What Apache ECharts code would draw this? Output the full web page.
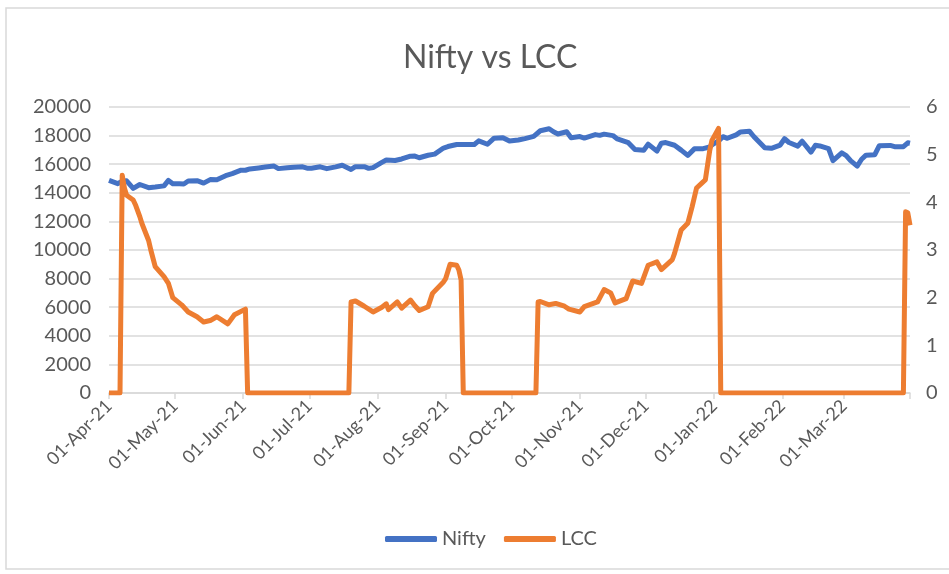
<!DOCTYPE html>
<html>
<head>
<meta charset="utf-8">
<title>Nifty vs LCC</title>
<script src="https://cdn.jsdelivr.net/npm/echarts@6/dist/echarts.min.js"></script>
<style>
  html, body { margin: 0; padding: 0; background: #fff; }
  #chart { width: 949px; height: 574px; }
</style>
</head>
<body>
<div id="chart"></div>
<script>
// Nifty close (trading days, sampled)
var niftyDates = ['2021-04-01','2021-04-05','2021-04-07','2021-04-09','2021-04-12','2021-04-15','2021-04-19','2021-04-22','2021-04-26','2021-04-28','2021-04-30',
  '2021-05-03','2021-05-05','2021-05-07','2021-05-11','2021-05-14','2021-05-17','2021-05-20','2021-05-24','2021-05-27','2021-05-31',
  '2021-06-02','2021-06-04','2021-06-08','2021-06-11','2021-06-15','2021-06-17','2021-06-21','2021-06-24','2021-06-28','2021-06-30',
  '2021-07-02','2021-07-06','2021-07-09','2021-07-13','2021-07-16','2021-07-20','2021-07-22','2021-07-26','2021-07-28','2021-07-30',
  '2021-08-03','2021-08-05','2021-08-09','2021-08-12','2021-08-16','2021-08-18','2021-08-20','2021-08-24','2021-08-27','2021-08-31',
  '2021-09-02','2021-09-06','2021-09-09','2021-09-14','2021-09-16','2021-09-20','2021-09-23','2021-09-27','2021-09-30',
  '2021-10-04','2021-10-07','2021-10-11','2021-10-14','2021-10-18','2021-10-20','2021-10-22','2021-10-26','2021-10-28',
  '2021-11-01','2021-11-03','2021-11-08','2021-11-10','2021-11-12','2021-11-16','2021-11-18','2021-11-23','2021-11-26','2021-11-30',
  '2021-12-02','2021-12-06','2021-12-08','2021-12-10','2021-12-14','2021-12-17','2021-12-20','2021-12-23','2021-12-27','2021-12-30','2021-12-31',
  '2022-01-03','2022-01-05','2022-01-07','2022-01-11','2022-01-13','2022-01-17','2022-01-19','2022-01-21','2022-01-24','2022-01-27','2022-01-31',
  '2022-02-02','2022-02-04','2022-02-08','2022-02-10','2022-02-14','2022-02-16','2022-02-18','2022-02-22','2022-02-24','2022-02-28',
  '2022-03-02','2022-03-04','2022-03-07','2022-03-09','2022-03-11','2022-03-15','2022-03-17','2022-03-22','2022-03-24','2022-03-28','2022-03-30','2022-03-31'];
var niftyValues = [14867,14638,14819,14835,14311,14581,14359,14406,14485,14865,14631,
  14634,14618,14823,14851,14678,14923,14906,15197,15338,15583,
  15576,15670,15740,15799,15869,15691,15746,15790,15814,15721,
  15722,15819,15690,15812,15923,15632,15824,15824,15709,15763,
  16130,16295,16258,16364,16563,16569,16450,16624,16705,17132,
  17234,17377,17369,17380,17630,17397,17823,17855,17618,
  17691,17790,17946,18339,18477,18266,18115,18268,17857,
  17930,17829,18069,18018,18102,17999,17765,17503,17026,16983,
  17401,16913,17470,17511,17325,16985,16614,17072,17086,17204,17354,
  17625,17925,17812,18055,18258,18308,17938,17617,17149,17110,17340,
  17780,17516,17266,17606,16842,17322,17276,17092,16248,16794,
  16606,16245,15863,16345,16630,16663,17287,17316,17223,17222,17498,17465];

// LCC (right axis)
var lccDates = ['2021-04-01','2021-04-06','2021-04-07','2021-04-08','2021-04-09','2021-04-12','2021-04-13','2021-04-15','2021-04-16','2021-04-19','2021-04-20','2021-04-22','2021-04-26','2021-04-28','2021-04-30',
  '2021-05-04','2021-05-07','2021-05-11','2021-05-14','2021-05-17','2021-05-20','2021-05-25','2021-05-28','2021-06-02','2021-06-03',
  '2021-07-19','2021-07-20','2021-07-22','2021-07-26','2021-07-30','2021-08-03','2021-08-05','2021-08-06','2021-08-10','2021-08-12','2021-08-16','2021-08-18','2021-08-20','2021-08-24','2021-08-26','2021-08-31',
  '2021-09-01','2021-09-03','2021-09-06','2021-09-07','2021-09-08','2021-09-09',
  '2021-10-12','2021-10-13','2021-10-14','2021-10-18','2021-10-21','2021-10-25','2021-10-27','2021-11-01','2021-11-03','2021-11-09','2021-11-12','2021-11-15','2021-11-17','2021-11-22','2021-11-25','2021-11-29',
  '2021-12-02','2021-12-06','2021-12-08','2021-12-13','2021-12-14','2021-12-17','2021-12-20','2021-12-22','2021-12-24','2021-12-27','2021-12-28','2021-12-30','2021-12-31',
  '2022-01-03','2022-01-04','2022-03-28','2022-03-29','2022-03-30','2022-03-31'];
var lccValues = [0,0,4.57,4.3,4.15,4.05,3.95,3.7,3.55,3.2,3.0,2.65,2.44,2.3,2.0,
  1.85,1.7,1.6,1.49,1.52,1.6,1.45,1.64,1.76,0,
  0,1.91,1.93,1.82,1.7,1.8,1.87,1.75,1.91,1.78,1.95,1.83,1.73,1.81,2.09,2.33,
  2.4,2.7,2.68,2.58,2.37,0,
  0,1.91,1.92,1.85,1.88,1.82,1.76,1.7,1.81,1.91,2.17,2.1,1.89,1.98,2.35,2.3,
  2.68,2.75,2.59,2.8,2.93,3.42,3.56,3.91,4.3,4.43,4.47,5.09,5.3,
  5.55,0,0,3.8,3.78,3.52];

// month ticks on the date axis
var monthTicks = ['2021-04-01','2021-05-01','2021-06-01','2021-07-01','2021-08-01','2021-09-01','2021-10-01',
  '2021-11-01','2021-12-01','2022-01-01','2022-02-01','2022-03-01'];
var monthNames = ['Jan','Feb','Mar','Apr','May','Jun','Jul','Aug','Sep','Oct','Nov','Dec'];

var DAY = 86400000;
function ts(s) {
  var p = s.split('-');
  return Date.UTC(+p[0], +p[1] - 1, +p[2]);
}
function pairs(d, v) {
  return d.map(function (x, i) { return [ts(x), v[i]]; });
}
function fmtDate(val) {
  var d = new Date(Math.round(val / DAY) * DAY);
  var dd = ('0' + d.getUTCDate()).slice(-2);
  return dd + '-' + monthNames[d.getUTCMonth()] + '-' + String(d.getUTCFullYear()).slice(2);
}

var txt = '#595959';
var fontF = 'Lato, "Open Sans", sans-serif';

var option = {
  backgroundColor: '#fff',
  animation: false,
  title: {
    text: 'Nifty vs LCC',
    left: 398,
    top: 37,
    textStyle: { color: txt, fontSize: 32, fontWeight: 'normal', fontFamily: fontF }
  },
  legend: {
    bottom: 20,
    left: 380,
    itemGap: 18,
    itemWidth: 52,
    itemHeight: 6,
    icon: 'roundRect',
    textStyle: { color: txt, fontSize: 20, fontFamily: fontF },
    data: ['Nifty', 'LCC']
  },
  grid: { left: 109, right: 39, top: 107, bottom: 181 },
  xAxis: {
    type: 'value',
    min: ts('2021-04-01'),
    max: ts('2022-03-31'),
    axisLine: { show: true, onZero: false, lineStyle: { color: '#D9D9D9', width: 1.5 } },
    axisTick: {
      show: true, length: 6, inside: false,
      customValues: monthTicks.map(ts).concat([ts('2022-03-31')]),
      lineStyle: { color: '#D9D9D9', width: 1.5 }
    },
    axisLabel: {
      rotate: 45,
      color: txt,
      fontSize: 18,
      fontFamily: fontF,
      margin: 10,
      customValues: monthTicks.map(ts),
      formatter: fmtDate
    },
    splitLine: { show: false }
  },
  yAxis: [{
    type: 'value',
    min: 0, max: 20000, interval: 2000,
    axisLine: { show: false },
    axisTick: { show: false },
    axisLabel: { color: txt, fontSize: 20, fontFamily: fontF, margin: 18, formatter: function (v) { return String(v); } },
    splitLine: { lineStyle: { color: '#D9D9D9', width: 1.5 } }
  }, {
    type: 'value',
    min: 0, max: 6, interval: 1,
    axisLine: { show: false },
    axisTick: { show: false },
    axisLabel: { color: txt, fontSize: 20, fontFamily: fontF, margin: 16 },
    splitLine: { show: false }
  }],
  graphic: [{
    type: 'rect',
    shape: { x: 6, y: 8, width: 960, height: 561 },
    style: { fill: 'none', stroke: '#D9D9D9', lineWidth: 1.5 },
    silent: true
  }],
  series: [{
    name: 'Nifty',
    type: 'line',
    yAxisIndex: 0,
    symbol: 'none',
    color: '#4472C4',
    lineStyle: { width: 5, color: '#4472C4', join: 'round' },
    data: pairs(niftyDates, niftyValues)
  }, {
    name: 'LCC',
    type: 'line',
    yAxisIndex: 1,
    symbol: 'none',
    color: '#ED7D31',
    lineStyle: { width: 5, color: '#ED7D31', join: 'round' },
    data: pairs(lccDates, lccValues)
  }]
};

var myChart = echarts.init(document.getElementById('chart'));
myChart.setOption(option);
window.addEventListener('resize', function () { myChart.resize(); });
</script>
</body>
</html>
